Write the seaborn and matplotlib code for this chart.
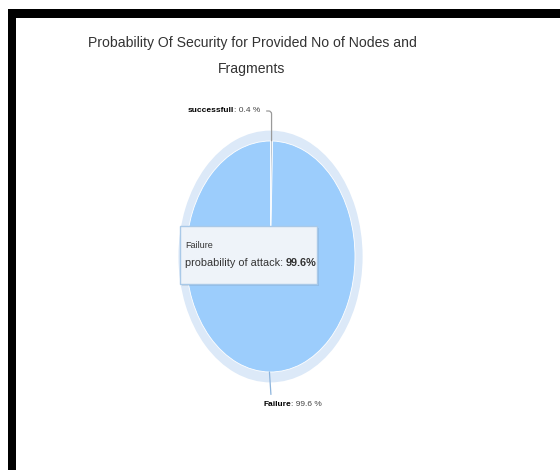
import matplotlib
matplotlib.use('Agg')
import numpy as np
import matplotlib.pyplot as plt
import seaborn as sns
from matplotlib.patches import Rectangle

# ---- data ----
labels = ['successfull', 'Failure']
values = [0.4, 99.6]
title_lines = ['Probability Of Security for Provided No of Nodes and', 'Fragments']
series_name = 'probability of attack'
hover_index = 1

sns.set_theme(style='white')
plt.rcParams['font.family'] = ['Liberation Sans', 'DejaVu Sans']

W, H = 560, 470
fig = plt.figure(figsize=(W / 100, H / 100), dpi=100)
fig.patch.set_facecolor('white')
ax = fig.add_axes([0, 0, 1, 1])

# pixel geometry of the pie (centre and radii)
CX, CY, RX, RY = 270.5, 256.5, 84.5, 115.5


def d(px, py):
    return ((px - CX) / RX, (CY - py) / RY)


slice_colors = ['#bcc6d0', '#9ccdfc']
halo_color = '#dce9f8'

ax.pie([sum(values)], radius=1.09, colors=[halo_color], startangle=90,
       wedgeprops=dict(linewidth=0))
wedges, _ = ax.pie(values, colors=slice_colors, startangle=90, counterclock=False,
                   wedgeprops=dict(edgecolor='white', linewidth=0.6))
ax.set_aspect('auto')
ax.set_xlim(-CX / RX, (W - CX) / RX)
ax.set_ylim(-(H - CY) / RY, CY / RY)
ax.axis('off')

# ---- data labels ----
label_pos = [d(188, 111), d(263, 404)]
conn_colors = ['#9a9a9a', '#8db4dc']
for i, (w, lab, v) in enumerate(zip(wedges, labels, values)):
    ang = np.deg2rad((w.theta1 + w.theta2) / 2)
    ex, ey = np.cos(ang), np.sin(ang)
    if i == 0:
        t1 = ax.text(*label_pos[i], lab, fontsize=6, fontweight='bold', color='black',
                     ha='left', va='center')
        ax.annotate(f': {v} %', xy=(ex, ey), xycoords='data', xytext=(1, 0),
                    textcoords=t1, ha='left', va='bottom', fontsize=6, color='#444444',
                    arrowprops=dict(arrowstyle='-', color=conn_colors[i], lw=0.9,
                                    relpos=(1, 0.5), shrinkA=2, shrinkB=0,
                                    connectionstyle='angle,angleA=0,angleB=90,rad=3'))
    else:
        t1 = ax.annotate(lab, xy=(ex, ey), xycoords='data', xytext=label_pos[i],
                         textcoords='data', fontsize=6, fontweight='bold', color='black',
                         ha='left', va='center',
                         arrowprops=dict(arrowstyle='-', color=conn_colors[i], lw=0.9,
                                         relpos=(0.3, 1), shrinkA=2, shrinkB=0))
        ax.annotate(f': {v} %', xy=(1, 0), xycoords=t1, ha='left', va='bottom',
                    fontsize=6, color='#444444')

# ---- title ----
fig.text(252 / W, 1 - 47 / H, title_lines[0], ha='center', va='baseline',
         fontsize=10.1, color='#333333')
fig.text(252 / W, 1 - 73 / H, title_lines[1], ha='center', va='baseline',
         fontsize=10.1, color='#333333')

# ---- tooltip (drawn inside the axes, above the pie) ----
FT = fig.transFigure
bx, by, bw, bh = 180, 226, 137, 58
ax.add_patch(Rectangle(((bx + 2) / W, 1 - (by + bh + 2) / H), bw / W, bh / H,
                       transform=FT, facecolor='#00000014', edgecolor='none', zorder=9))
ax.add_patch(Rectangle((bx / W, 1 - (by + bh) / H), bw / W, bh / H,
                       transform=FT, facecolor='#eef3f9', edgecolor='#a9c9e8',
                       lw=1.0, zorder=10))
ax.text(185 / W, 1 - 245 / H, labels[hover_index], fontsize=6.5, color='#333333',
        ha='left', va='center', transform=FT, zorder=11)
tt = ax.text(185 / W, 1 - 263 / H, f'{series_name}: ', fontsize=7.8, color='#333333',
             ha='left', va='center', transform=FT, zorder=11)
ax.annotate(f'{values[hover_index]}%', xy=(1, 0), xycoords=tt, ha='left', va='bottom',
            fontsize=7.8, fontweight='bold', color='#333333', zorder=11)

# ---- black frame edges ----
fig.add_artist(Rectangle((8 / W, 0), 8 / W, (H - 9) / H, transform=FT,
                         facecolor='black', edgecolor='none'))
fig.add_artist(Rectangle((8 / W, 1 - 18 / H), (W - 8) / W, 9 / H, transform=FT,
                         facecolor='black', edgecolor='none'))

fig.savefig('out.png', dpi=100, facecolor='white')
